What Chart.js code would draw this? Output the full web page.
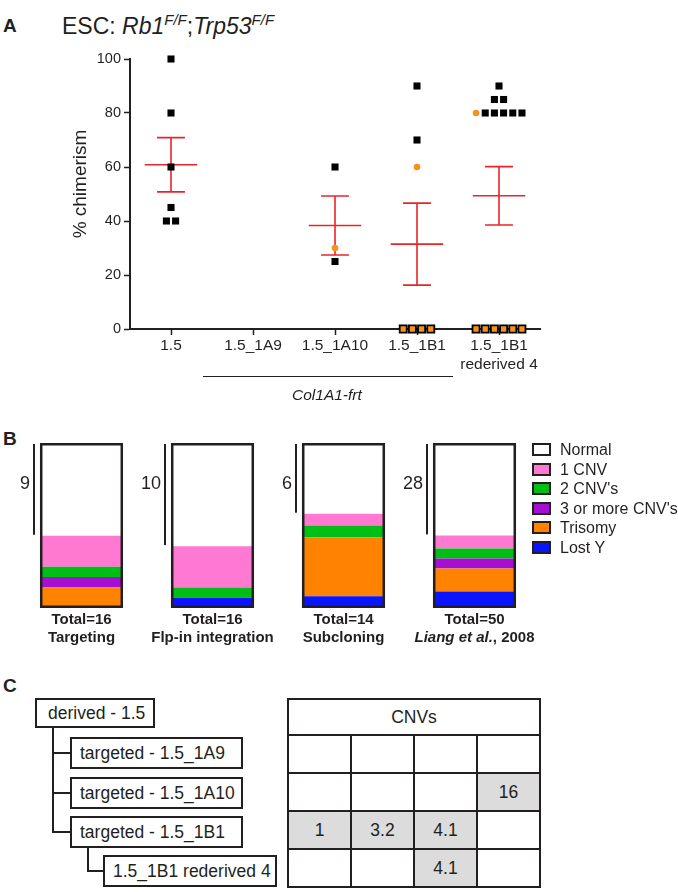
<!DOCTYPE html>
<html>
<head>
<meta charset="utf-8">
<script src="https://cdn.jsdelivr.net/npm/chart.js@4.4.0/dist/chart.umd.min.js"></script>
<style>
  body { margin: 0; background: #fff; }
  #page { position: relative; width: 678px; height: 892px; overflow: hidden; background: #fff;
          font-family: "Liberation Sans", Arial, Helvetica, sans-serif; color: #231f20; }
  .abs { position: absolute; white-space: nowrap; line-height: 1; }
  .panel { font-weight: bold; font-size: 19px; }
  canvas { position: absolute; left: 0; }
  .legRow { position: absolute; left: 532px; height: 19px; font-size: 16px; line-height: 19px; }
  .legBox { position: absolute; left: 0; top: 3px; width: 19px; height: 13px; box-sizing: border-box; border: 2px solid #231f20; }
  .legTxt { position: absolute; left: 28px; top: 0; white-space: nowrap; }
  .node { position: absolute; box-sizing: border-box; border: 2px solid #231f20; font-size: 17.5px;
          line-height: 28px; padding-left: 8px; white-space: nowrap; background: #fff; }
  .tline { position: absolute; background: #231f20; }
  #cnvTable { position: absolute; left: 287px; top: 698px; border-collapse: collapse; font-size: 17.5px; }
  #cnvTable td { border: 2.5px solid #231f20; width: 61px; height: 36px; padding: 0; text-align: center; }
  #cnvTable td.hd { height: 34px; }
  #cnvTable td.on { background: #dcdcdc; }
</style>
</head>
<body>
<div id="page">
  <div class="abs panel" style="left:3px;top:16px;">A</div>
  <div class="abs" style="left:62px;top:12px;font-size:23px;">ESC: <i>Rb1<sup style="font-size:15px;">F/F</sup></i>;<i>Trp53<sup style="font-size:15px;">F/F</sup></i></div>
  <canvas id="chartA" width="560" height="340" style="top:40px;"></canvas>
  <div class="abs" style="left:203px;top:376px;width:250px;height:1.3px;background:#231f20;"></div>
  <div class="abs" style="left:292px;top:387px;font-size:15.5px;font-style:italic;">Col1A1-frt</div>

  <div class="abs panel" style="left:3px;top:429px;">B</div>
  <canvas id="chartB" width="678" height="230" style="top:430px;"></canvas>
  <div id="legendB"></div>

  <div class="abs panel" style="left:3px;top:676px;">C</div>
  <div id="tree"></div>
  <table id="cnvTable"></table>
</div>

<script>
// ---- panel A: % chimerism per clone ----
const groupsA = ["1.5", "1.5_1A9", "1.5_1A10", "1.5_1B1", ["1.5_1B1", "rederived 4"]];
const blackPts = [
  [100, 80, 60, 45, 40, 40],
  [],
  [60, 25],
  [90, 70, 0, 0, 0, 0],
  [90, 85, 85, 80, 80, 80, 80, 80, 0, 0, 0, 0, 0, 0]
];
const orangePts = [[], [], [30], [60], [80]];
const yTicksA = [0, 20, 40, 60, 80, 100];

// ---- panel B: karyotype outcome per procedure ----
const procNames = ["Targeting", "Flp-in integration", "Subcloning", "Liang et al., 2008"];
const totals = [16, 16, 14, 50];
const lostY = [0, 1, 1, 5];
const trisomy = [2, 0, 5, 7];
const cnv3 = [1, 0, 0, 3];
const cnv2 = [1, 1, 1, 3];
const cnv1 = [3, 4, 1, 4];
const normal = [9, 10, 6, 28];

// ---- panel C: clone tree and CNVs ----
const treeLabels = ["derived - 1.5", "targeted - 1.5_1A9", "targeted - 1.5_1A10", "targeted - 1.5_1B1", "1.5_1B1 rederived 4"];
const treeDepth = [0, 1, 1, 1, 2];
const cnvHeader = "CNVs";
const cnvRows = [
  ["", "", "", ""],
  ["", "", "", "16"],
  ["1", "3.2", "4.1", ""],
  ["", "", "4.1", ""]
];

const INK = "#231f20";
const FONT = "'Liberation Sans', Arial, Helvetica, sans-serif";
const RED = "#e8242b";
const ORANGE = "#f7901e";

// column scatter: equal values sit side by side, orange first
const STEP = 0.112;
function swarm(g) {
  const pts = orangePts[g].map(v => ({ v, c: "o" })).concat(blackPts[g].map(v => ({ v, c: "b" })));
  const byVal = {};
  pts.forEach(p => (byVal[p.v] = byVal[p.v] || []).push(p));
  Object.values(byVal).forEach(list => {
    list.forEach((p, k) => { p.x = g + (k - (list.length - 1) / 2) * STEP; });
  });
  return pts;
}
const swarmed = groupsA.map((_, g) => swarm(g));
const blackData = [], orangeData = [];
swarmed.forEach(list => list.forEach(p => {
  (p.c === "o" ? orangeData : blackData).push({ x: p.x, y: p.v });
}));

function stats(vals) {
  const n = vals.length;
  const m = vals.reduce((a, b) => a + b, 0) / n;
  const sd = Math.sqrt(vals.reduce((a, b) => a + (b - m) * (b - m), 0) / (n - 1));
  return { m, se: sd / Math.sqrt(n) };
}

const errorBars = {
  id: "errorBars",
  beforeDatasetsDraw(chart) {
    const { ctx, scales: { x, y } } = chart;
    ctx.save();
    ctx.strokeStyle = RED;
    ctx.lineWidth = 1.6;
    groupsA.forEach((_, g) => {
      const vals = blackPts[g].concat(orangePts[g]);
      if (!vals.length) return;
      const { m, se } = stats(vals);
      const cx = x.getPixelForValue(g);
      const wMean = x.getPixelForValue(g + 0.32) - cx;
      const wCap = x.getPixelForValue(g + 0.17) - cx;
      const yM = y.getPixelForValue(m), yU = y.getPixelForValue(m + se), yL = y.getPixelForValue(m - se);
      ctx.beginPath();
      ctx.moveTo(cx - wMean, yM); ctx.lineTo(cx + wMean, yM);
      ctx.moveTo(cx, yU); ctx.lineTo(cx, yL);
      ctx.moveTo(cx - wCap, yU); ctx.lineTo(cx + wCap, yU);
      ctx.moveTo(cx - wCap, yL); ctx.lineTo(cx + wCap, yL);
      ctx.stroke();
    });
    ctx.restore();
  },
  afterDraw(chart) {
    const { ctx, chartArea } = chart;
    ctx.save();
    ctx.fillStyle = INK;
    ctx.font = "19px " + FONT;
    ctx.textAlign = "center";
    ctx.textBaseline = "middle";
    ctx.translate(81, 144);
    ctx.rotate(-Math.PI / 2);
    ctx.fillText("% chimerism", 0, 0);
    ctx.restore();
  }
};

new Chart(document.getElementById("chartA"), {
  type: "scatter",
  data: {
    datasets: [
      {
        label: "black",
        data: blackData,
        pointStyle: "rect",
        pointRadius: 5,
        backgroundColor: ctx => (ctx.raw && ctx.raw.y === 0 ? ORANGE : "#000"),
        borderColor: "#000",
        borderWidth: ctx => (ctx.raw && ctx.raw.y === 0 ? 1.8 : 0),
        clip: false
      },
      {
        label: "orange",
        data: orangeData,
        pointStyle: "circle",
        pointRadius: 3.3,
        backgroundColor: ORANGE,
        borderWidth: 0,
        clip: false
      }
    ]
  },
  options: {
    responsive: false,
    animation: false,
    devicePixelRatio: 1,
    layout: { padding: { top: 19, right: 20, left: 0, bottom: 0 } },
    plugins: { legend: { display: false }, tooltip: { enabled: false } },
    scales: {
      x: {
        type: "linear",
        min: -0.5,
        max: 4.5,
        afterBuildTicks: s => { s.ticks = groupsA.map((_, i) => ({ value: i })); },
        afterFit: s => { s.height = 51; },
        ticks: {
          callback: v => groupsA[v],
          color: INK,
          font: { family: FONT, size: 15.5, lineHeight: 1.25 },
          padding: 1,
          maxRotation: 0
        },
        grid: { drawOnChartArea: false, tickLength: 6, tickColor: INK, tickWidth: 1.5 },
        border: { color: INK, width: 2 }
      },
      y: {
        min: 0,
        max: 100,
        afterBuildTicks: s => { s.ticks = yTicksA.map(v => ({ value: v })); },
        afterFit: s => { s.width = 130; },
        ticks: { color: INK, font: { family: FONT, size: 14.5 }, padding: 3 },
        grid: { drawOnChartArea: false, tickLength: 6, tickColor: INK, tickWidth: 1.5 },
        border: { color: INK, width: 2 }
      }
    }
  },
  plugins: [errorBars]
});

// ---- panel B chart ----
const segs = [
  { name: "Lost Y", vals: lostY, color: "#0a14ff" },
  { name: "Trisomy", vals: trisomy, color: "#ff8200" },
  { name: "3 or more CNV's", vals: cnv3, color: "#a50fd2" },
  { name: "2 CNV's", vals: cnv2, color: "#00bf14" },
  { name: "1 CNV", vals: cnv1, color: "#ff78d2" },
  { name: "Normal", vals: normal, color: "#ffffff" }
];

const boxPlugin = {
  id: "boxPlugin",
  afterDatasetsDraw(chart) {
    const { ctx, scales: { y } } = chart;
    const bars = chart.getDatasetMeta(0).data;
    const top = y.getPixelForValue(100), bot = y.getPixelForValue(0);
    ctx.save();
    bars.forEach((b, i) => {
      const left = b.x - b.width / 2, right = b.x + b.width / 2;
      ctx.strokeStyle = INK;
      ctx.lineWidth = 2.5;
      ctx.strokeRect(left + 1.25, top + 1.25, right - left - 2.5, bot - top - 2.5);
      // bracket for normal karyotypes
      const yN = y.getPixelForValue(100 - normal[i] / totals[i] * 100);
      const lx = left - 6;
      ctx.lineWidth = 2;
      ctx.beginPath();
      ctx.moveTo(lx, top + 1); ctx.lineTo(lx, yN - 1);
      ctx.stroke();
      ctx.fillStyle = INK;
      ctx.font = "18px " + FONT;
      ctx.textAlign = "right";
      ctx.textBaseline = "middle";
      ctx.fillText(String(normal[i]), lx - 4, top + 41);
      // labels under bars
      ctx.textAlign = "left";
      ctx.font = "bold 15px " + FONT;
      const t1 = "Total=" + totals[i];
      ctx.fillText(t1, b.x - ctx.measureText(t1).width / 2, bot + 12);
      if (procNames[i].indexOf(" et al.") > 0) {
        const cut = procNames[i].indexOf(",");
        const a = procNames[i].slice(0, cut), r = procNames[i].slice(cut);
        ctx.font = "italic bold 15px " + FONT;
        const wa = ctx.measureText(a).width;
        ctx.font = "bold 15px " + FONT;
        const wr = ctx.measureText(r).width;
        const sx = b.x - (wa + wr) / 2;
        ctx.font = "italic bold 15px " + FONT;
        ctx.fillText(a, sx, bot + 30);
        ctx.font = "bold 15px " + FONT;
        ctx.fillText(r, sx + wa, bot + 30);
      } else {
        ctx.fillText(procNames[i], b.x - ctx.measureText(procNames[i]).width / 2, bot + 30);
      }
    });
    ctx.restore();
  }
};

new Chart(document.getElementById("chartB"), {
  type: "bar",
  data: {
    labels: procNames,
    datasets: segs.map(s => ({
      label: s.name,
      data: s.vals.map((v, i) => v / totals[i] * 100),
      backgroundColor: s.color,
      borderWidth: 0,
      barPercentage: 0.634,
      categoryPercentage: 1
    }))
  },
  options: {
    responsive: false,
    animation: false,
    devicePixelRatio: 1,
    layout: { padding: { left: 16, right: 138, top: 13, bottom: 52 } },
    plugins: { legend: { display: false }, tooltip: { enabled: false } },
    scales: {
      x: { stacked: true, display: false },
      y: { stacked: true, display: false, min: 0, max: 100 }
    }
  },
  plugins: [boxPlugin]
});

// legend for panel B (Normal on top)
const legendB = document.getElementById("legendB");
segs.slice().reverse().forEach((s, k) => {
  const row = document.createElement("div");
  row.className = "legRow";
  row.style.top = (440 + k * 19.5) + "px";
  row.innerHTML = '<div class="legBox" style="background:' + s.color + '"></div><div class="legTxt">' + s.name + "</div>";
  legendB.appendChild(row);
});

// ---- panel C: tree ----
const tree = document.getElementById("tree");
const rowTop = [698, 737, 777, 816, 855];
const rowH = [30, 32, 32, 32, 32];
const depthLeft = [35, 70, 103];
const depthW = [120, 173, 174];
treeLabels.forEach((t, i) => {
  const d = treeDepth[i];
  const n = document.createElement("div");
  n.className = "node";
  n.style.left = depthLeft[d] + "px";
  n.style.top = rowTop[i] + "px";
  n.style.width = depthW[d] + "px";
  n.style.height = rowH[i] + "px";
  n.style.lineHeight = (rowH[i] - 4) + "px";
  if (d === 0) n.style.paddingLeft = "11px";
  n.textContent = t;
  tree.appendChild(n);
});
function tl(x, y, w, h) {
  const l = document.createElement("div");
  l.className = "tline";
  l.style.left = x + "px"; l.style.top = y + "px";
  l.style.width = w + "px"; l.style.height = h + "px";
  tree.appendChild(l);
}
// connectors from parent to children
treeLabels.forEach((t, i) => {
  const d = treeDepth[i];
  if (d === 0) return;
  let p = i - 1;
  while (treeDepth[p] >= d) p--;
  const vx = depthLeft[d - 1] + 17;
  const cy = rowTop[i] + rowH[i] / 2;
  tl(vx, rowTop[p] + rowH[p], 2, cy - rowTop[p] - rowH[p] + 1);
  tl(vx, cy - 1, depthLeft[d] - vx, 2);
});

// CNV table
const table = document.getElementById("cnvTable");
let html = '<tr><td class="hd" colspan="4">' + cnvHeader + "</td></tr>";
cnvRows.forEach(r => {
  html += "<tr>" + r.map(c => '<td class="' + (c ? "on" : "") + '">' + c + "</td>").join("") + "</tr>";
});
table.innerHTML = html;
</script>
</body>
</html>
